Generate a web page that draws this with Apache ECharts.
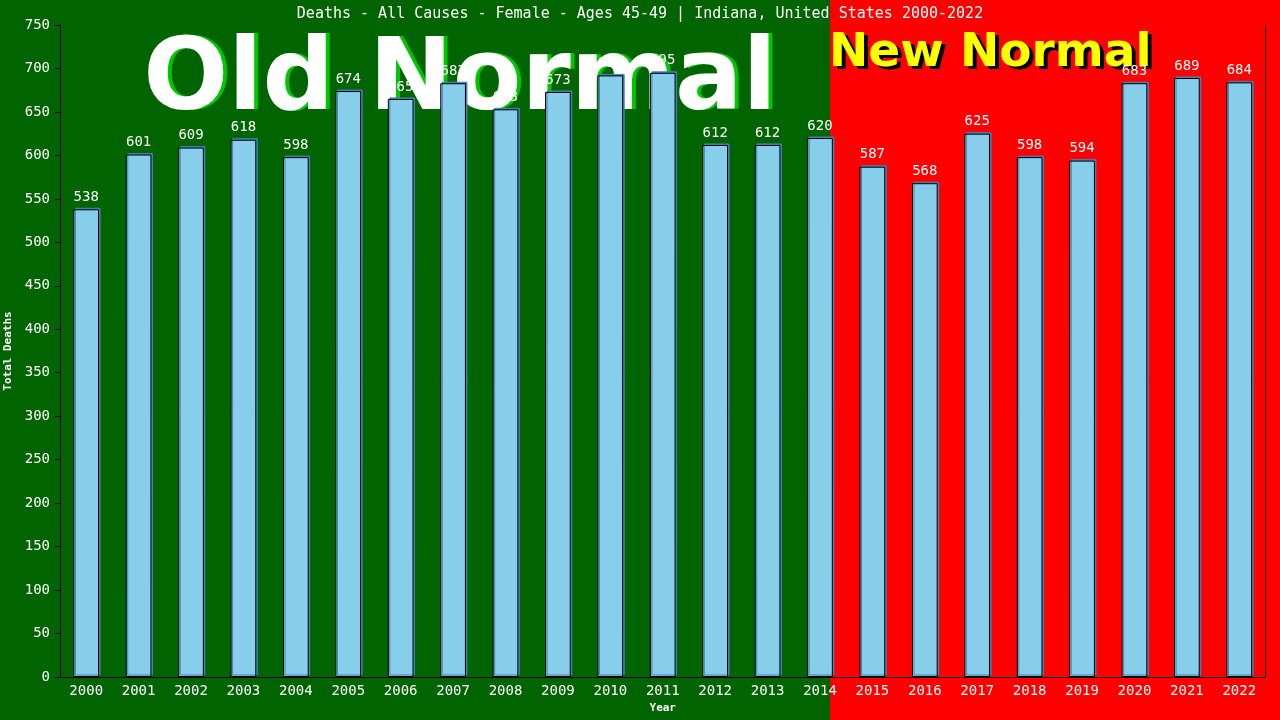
<!DOCTYPE html>
<html>
<head>
<meta charset="utf-8">
<script src="https://cdn.jsdelivr.net/npm/echarts@6/dist/echarts.min.js"></script>
<style>
html,body{margin:0;padding:0;background:#006400;}
#chart{width:1280px;height:720px;}
</style>
</head>
<body>
<div id="chart"></div>
<script>
var years = ['2000','2001','2002','2003','2004','2005','2006','2007','2008','2009','2010','2011','2012','2013','2014','2015','2016','2017','2018','2019','2020','2021','2022'];
var deaths = [538,601,609,618,598,674,665,683,653,673,692,695,612,612,620,587,568,625,598,594,683,689,684];
var yTicks = {min:0, max:750, interval:50};
var titleText = 'Deaths - All Causes - Female - Ages 45-49 | Indiana, United States 2000-2022';
var mono = '"DejaVu Sans Mono", "Liberation Mono", monospace';

var chart = echarts.init(document.getElementById('chart'));
chart.setOption({
  animation: false,
  backgroundColor: '#006400',
  title: {
    text: titleText, left: 'center', top: 2,
    textStyle: {color: '#fff', fontFamily: mono, fontSize: 15, fontWeight: 'normal'}
  },
  grid: {left: 60, right: 14.5, top: 25, bottom: 43, containLabel: false, outerBoundsMode: 'none', show: false},
  graphic: [
    {type: 'rect', shape: {x: 830, y: 0, width: 450, height: 720}, style: {fill: '#ff0000'}, z: -10, silent: true},
    {type: 'text', x: 464, y: 83, z: -6, silent: true, style: {text: 'Old Normal', fill: '#00c800', font: 'bold 100px "DejaVu Sans"', align: 'center', verticalAlign: 'middle'}},
    {type: 'text', x: 460, y: 83, z: -5, silent: true, style: {text: 'Old Normal', fill: '#ffffff', font: 'bold 100px "DejaVu Sans"', align: 'center', verticalAlign: 'middle'}},
    {type: 'text', x: 833, y: 57, z: -6, silent: true, style: {text: 'New Normal', fill: '#000000', font: 'bold 47px "DejaVu Sans"', align: 'left', verticalAlign: 'middle'}},
    {type: 'text', x: 829, y: 54, z: -5, silent: true, style: {text: 'New Normal', fill: '#ffff00', font: 'bold 47px "DejaVu Sans"', align: 'left', verticalAlign: 'middle'}}
  ],
  xAxis: {
    type: 'category', data: years,
    name: 'Year', nameLocation: 'middle', nameGap: 26,
    nameTextStyle: {color: '#fff', fontFamily: mono, fontSize: 11, fontWeight: 'bold'},
    axisLine: {lineStyle: {color: '#000', width: 1}},
    axisTick: {show: false},
    axisLabel: {color: '#fff', fontFamily: mono, fontSize: 14, margin: 7}
  },
  yAxis: [{
    type: 'value', min: yTicks.min, max: yTicks.max, interval: yTicks.interval,
    name: 'Total Deaths', nameLocation: 'middle', nameGap: 42,
    nameTextStyle: {color: '#fff', fontFamily: mono, fontSize: 11, fontWeight: 'bold'},
    axisLine: {show: true, lineStyle: {color: '#000', width: 1}},
    axisTick: {show: true, length: 5, lineStyle: {color: '#000'}},
    splitLine: {show: false},
    axisLabel: {color: '#fff', fontFamily: mono, fontSize: 14, margin: 10}
  }, {
    type: 'value', position: 'right', min: yTicks.min, max: yTicks.max, interval: yTicks.interval,
    axisLine: {show: true, lineStyle: {color: '#000', width: 1}},
    axisTick: {show: false}, axisLabel: {show: false}, splitLine: {show: false}
  }],
  series: [{
    type: 'bar', data: deaths, barWidth: '49%',
    itemStyle: {color: '#87CEEB', borderColor: '#000', borderWidth: 1, shadowColor: '#4682B4', shadowOffsetX: 1.5, shadowOffsetY: -1.5, shadowBlur: 0},
    label: {show: true, position: 'top', distance: 5, color: '#fff', fontFamily: mono, fontSize: 14}
  }]
});
</script>
</body>
</html>
